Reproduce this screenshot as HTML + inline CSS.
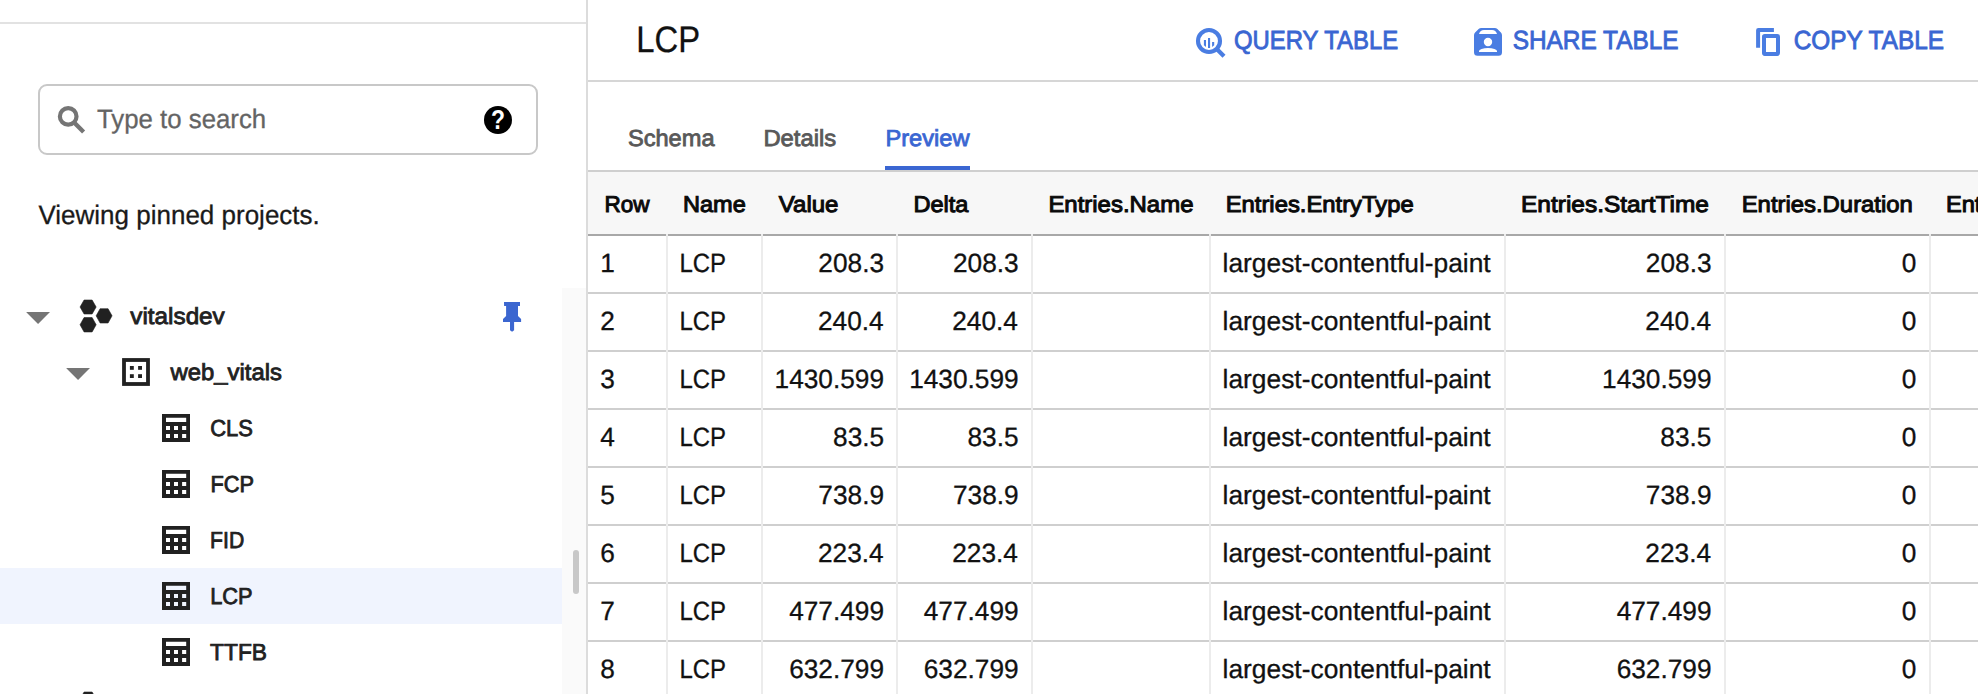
<!DOCTYPE html>
<html lang="en"><head><meta charset="utf-8"><title>BigQuery - LCP</title>
<style>
html,body{margin:0;padding:0;overflow:hidden}
body{width:1978px;height:694px;position:relative;overflow:hidden;background:#fff;font-family:"Liberation Sans",sans-serif}
.a,.t,i,svg.o{position:absolute}
.t{left:0;top:0;white-space:pre;line-height:normal;transform-origin:0 0;font-weight:400;text-rendering:geometricPrecision}
i{display:block}
.v{top:234px;width:2px;height:460px;background:#ececec}
.h{left:588px;width:1390px;height:2px;background:#cfcfcf}
.g{display:contents}
.clip{left:0;top:0;width:1978px;height:694px;overflow:hidden}
#qc{left:484px;top:106px;width:28px;height:28px;border-radius:50%;background:#000}
#topline{left:0;top:22px;width:586px;height:2px;background:#e2e2e2}
#search{left:38px;top:84px;width:496px;height:67px;border:2px solid #c8c8c8;border-radius:9px}
#sel{left:0;top:568px;width:562px;height:56px;background:#f0f4fe}
#track{left:562px;top:288px;width:24px;height:406px;background:#fafafa}
#divider{left:586px;top:0;width:2px;height:694px;background:#dcdcdc}
#hline{left:588px;top:80px;width:1390px;height:2px;background:#d6d6d6}
#tabline{left:588px;top:170px;width:1390px;height:2px;background:#cfcfcf}
#thead{left:588px;top:172px;width:1390px;height:62px;background:#f7f7f7}
#theadb{left:588px;top:234px;width:1390px;height:2px;background:#a8a8a8}
#ul{left:885px;top:166px;width:85px;height:4px;background:#3a66d2}
#q{left:484px;top:105px;width:28px;height:30px;line-height:30px;text-align:center;color:#fff;font-weight:700;font-size:27px;transform:scaleX(.85)}
</style></head>
<body>
<aside class="g">
<i id="topline"></i>
<div class="a" id="search"></div>
<i id="sel"></i>
<i id="track"></i>
<span class="a" id="qc"></span><span class="a" id="q">?</span>
<span class="t" style="font-size:26.6px;color:#646464;transform:translate(97.04px,104.05px) scaleX(0.9694);-webkit-text-stroke:0.3px #646464">Type to search</span>
<span class="t" style="font-size:26.6px;color:#1a1a1a;transform:translate(38.45px,199.85px) scaleX(0.9776);-webkit-text-stroke:0.3px #1a1a1a">Viewing pinned projects.</span>
<span class="t" style="font-size:23.2px;color:#212121;transform:translate(130.33px,302.74px) scaleX(1.0467);-webkit-text-stroke:0.82px #212121">vitalsdev</span>
<span class="t" style="font-size:23.2px;color:#212121;transform:translate(170.44px,358.79px) scaleX(1.0295);-webkit-text-stroke:0.82px #212121">web_vitals</span>
<span class="t" style="font-size:23.2px;color:#212121;transform:translate(210.15px,414.79px) scaleX(0.9450);-webkit-text-stroke:0.82px #212121">CLS</span>
<span class="t" style="font-size:23.2px;color:#212121;transform:translate(210.57px,470.69px) scaleX(0.9372);-webkit-text-stroke:0.82px #212121">FCP</span>
<span class="t" style="font-size:23.2px;color:#212121;transform:translate(210.08px,526.69px) scaleX(0.9123);-webkit-text-stroke:0.82px #212121">FID</span>
<span class="t" style="font-size:23.2px;color:#212121;transform:translate(210.17px,582.69px) scaleX(0.9396);-webkit-text-stroke:0.82px #212121">LCP</span>
<span class="t" style="font-size:23.2px;color:#212121;transform:translate(210.09px,638.69px) scaleX(0.9814);-webkit-text-stroke:0.82px #212121">TTFB</span>
<svg class="a" style="left:162px;top:414.2px" width="28" height="28" viewBox="0 0 28 28"><path fill="#212121" fill-rule="evenodd" d="M0 0h28v28H0z M4 3.8h20.2v4.2H4z M4 11.9h4v4H4z M12 11.9h4v4h-4z M20.1 11.9h4.1v4h-4.1z M4 20h4v4H4z M12 20h4v4h-4z M20.1 20h4.1v4h-4.1z"/></svg>
<svg class="a" style="left:162px;top:470.2px" width="28" height="28" viewBox="0 0 28 28"><path fill="#212121" fill-rule="evenodd" d="M0 0h28v28H0z M4 3.8h20.2v4.2H4z M4 11.9h4v4H4z M12 11.9h4v4h-4z M20.1 11.9h4.1v4h-4.1z M4 20h4v4H4z M12 20h4v4h-4z M20.1 20h4.1v4h-4.1z"/></svg>
<svg class="a" style="left:162px;top:526.2px" width="28" height="28" viewBox="0 0 28 28"><path fill="#212121" fill-rule="evenodd" d="M0 0h28v28H0z M4 3.8h20.2v4.2H4z M4 11.9h4v4H4z M12 11.9h4v4h-4z M20.1 11.9h4.1v4h-4.1z M4 20h4v4H4z M12 20h4v4h-4z M20.1 20h4.1v4h-4.1z"/></svg>
<svg class="a" style="left:162px;top:582.2px" width="28" height="28" viewBox="0 0 28 28"><path fill="#212121" fill-rule="evenodd" d="M0 0h28v28H0z M4 3.8h20.2v4.2H4z M4 11.9h4v4H4z M12 11.9h4v4h-4z M20.1 11.9h4.1v4h-4.1z M4 20h4v4H4z M12 20h4v4h-4z M20.1 20h4.1v4h-4.1z"/></svg>
<svg class="a" style="left:162px;top:638.2px" width="28" height="28" viewBox="0 0 28 28"><path fill="#212121" fill-rule="evenodd" d="M0 0h28v28H0z M4 3.8h20.2v4.2H4z M4 11.9h4v4H4z M12 11.9h4v4h-4z M20.1 11.9h4.1v4h-4.1z M4 20h4v4H4z M12 20h4v4h-4z M20.1 20h4.1v4h-4.1z"/></svg>
</aside>
<i id="divider"></i>
<main class="g">
<header class="g">
<i id="hline"></i>
<i id="tabline"></i>
<i id="ul"></i>
<span class="t" style="font-size:37px;color:#111;transform:translate(636.29px,18.55px) scaleX(0.8862);-webkit-text-stroke:0.3px #111">LCP</span>
<span class="t" style="font-size:26.1px;color:#3a66d2;transform:translate(1233.98px,24.58px) scaleX(0.9153);-webkit-text-stroke:0.85px #3a66d2">QUERY TABLE</span>
<span class="t" style="font-size:26.1px;color:#3a66d2;transform:translate(1512.67px,24.58px) scaleX(0.9356);-webkit-text-stroke:0.85px #3a66d2">SHARE TABLE</span>
<span class="t" style="font-size:26.1px;color:#3a66d2;transform:translate(1793.67px,24.58px) scaleX(0.9334);-webkit-text-stroke:0.85px #3a66d2">COPY TABLE</span>
<span class="t" style="font-size:23.2px;color:#595959;transform:translate(627.9px,125.14px) scaleX(1.0190);-webkit-text-stroke:0.82px #595959">Schema</span>
<span class="t" style="font-size:23.2px;color:#595959;transform:translate(763.4px,125.14px) scaleX(1.0259);-webkit-text-stroke:0.82px #595959">Details</span>
<span class="t" style="font-size:23.2px;color:#3a66d2;transform:translate(885.41px,125.14px) scaleX(1.0203);-webkit-text-stroke:0.82px #3a66d2">Preview</span>
</header>
<section class="g">
<i id="thead"></i>
<i id="theadb"></i>
<i class="h" style="top:292px"></i>
<i class="h" style="top:350px"></i>
<i class="h" style="top:408px"></i>
<i class="h" style="top:466px"></i>
<i class="h" style="top:524px"></i>
<i class="h" style="top:582px"></i>
<i class="h" style="top:640px"></i>
<i class="v" style="left:666px"></i>
<i class="v" style="left:761px"></i>
<i class="v" style="left:896px"></i>
<i class="v" style="left:1031px"></i>
<i class="v" style="left:1209px"></i>
<i class="v" style="left:1504px"></i>
<i class="v" style="left:1724px"></i>
<i class="v" style="left:1929px"></i>
<div class="a clip">
<span class="t" style="font-size:22.9px;color:#0a0a0a;transform:translate(604.38px,190.75px) scaleX(0.9836);-webkit-text-stroke:1.0px #0a0a0a">Row</span>
<span class="t" style="font-size:22.9px;color:#0a0a0a;transform:translate(682.99px,190.75px) scaleX(1.0280);-webkit-text-stroke:1.0px #0a0a0a">Name</span>
<span class="t" style="font-size:22.9px;color:#0a0a0a;transform:translate(778.82px,190.75px) scaleX(1.0489);-webkit-text-stroke:1.0px #0a0a0a">Value</span>
<span class="t" style="font-size:22.9px;color:#0a0a0a;transform:translate(913.5px,190.75px) scaleX(1.0285);-webkit-text-stroke:1.0px #0a0a0a">Delta</span>
<span class="t" style="font-size:22.9px;color:#0a0a0a;transform:translate(1048.38px,190.75px) scaleX(1.0462);-webkit-text-stroke:1.0px #0a0a0a">Entries.Name</span>
<span class="t" style="font-size:22.9px;color:#0a0a0a;transform:translate(1225.68px,190.75px) scaleX(1.0405);-webkit-text-stroke:1.0px #0a0a0a">Entries.EntryType</span>
<span class="t" style="font-size:22.9px;color:#0a0a0a;transform:translate(1521.07px,190.75px) scaleX(1.0678);-webkit-text-stroke:1.0px #0a0a0a">Entries.StartTime</span>
<span class="t" style="font-size:22.9px;color:#0a0a0a;transform:translate(1741.68px,190.75px) scaleX(1.0430);-webkit-text-stroke:1.0px #0a0a0a">Entries.Duration</span>
<span class="t" style="font-size:22.9px;color:#0a0a0a;transform:translate(1945.88px,190.75px) scaleX(1.0325);-webkit-text-stroke:1.0px #0a0a0a">Entries.RenderTime</span>
</div>
<div class="g">
<span class="t" style="font-size:26.4px;color:#111;transform:translate(600.3px,247.85px) scaleX(0.9945);-webkit-text-stroke:0.3px #111">1</span>
<span class="t" style="font-size:26.4px;color:#111;transform:translate(679.46px,247.85px) scaleX(0.9081);-webkit-text-stroke:0.3px #111">LCP</span>
<span class="t" style="font-size:26.4px;color:#111;transform:translate(818.35px,247.85px) scaleX(0.9945);-webkit-text-stroke:0.3px #111">208.3</span>
<span class="t" style="font-size:26.4px;color:#111;transform:translate(952.95px,247.85px) scaleX(0.9945);-webkit-text-stroke:0.3px #111">208.3</span>
<span class="t" style="font-size:26.4px;color:#111;transform:translate(1222.56px,247.85px) scaleX(0.9988);-webkit-text-stroke:0.3px #111">largest-contentful-paint</span>
<span class="t" style="font-size:26.4px;color:#111;transform:translate(1645.85px,247.85px) scaleX(0.9945);-webkit-text-stroke:0.3px #111">208.3</span>
<span class="t" style="font-size:26.4px;color:#111;transform:translate(1901.73px,247.85px) scaleX(0.9945);-webkit-text-stroke:0.3px #111">0</span>
<span class="t" style="font-size:26.4px;color:#111;transform:translate(600.3px,305.85px) scaleX(0.9945);-webkit-text-stroke:0.3px #111">2</span>
<span class="t" style="font-size:26.4px;color:#111;transform:translate(679.46px,305.85px) scaleX(0.9081);-webkit-text-stroke:0.3px #111">LCP</span>
<span class="t" style="font-size:26.4px;color:#111;transform:translate(817.95px,305.85px) scaleX(0.9945);-webkit-text-stroke:0.3px #111">240.4</span>
<span class="t" style="font-size:26.4px;color:#111;transform:translate(952.25px,305.85px) scaleX(0.9945);-webkit-text-stroke:0.3px #111">240.4</span>
<span class="t" style="font-size:26.4px;color:#111;transform:translate(1222.56px,305.85px) scaleX(0.9988);-webkit-text-stroke:0.3px #111">largest-contentful-paint</span>
<span class="t" style="font-size:26.4px;color:#111;transform:translate(1645.35px,305.85px) scaleX(0.9945);-webkit-text-stroke:0.3px #111">240.4</span>
<span class="t" style="font-size:26.4px;color:#111;transform:translate(1901.73px,305.85px) scaleX(0.9945);-webkit-text-stroke:0.3px #111">0</span>
<span class="t" style="font-size:26.4px;color:#111;transform:translate(600.3px,363.85px) scaleX(0.9945);-webkit-text-stroke:0.3px #111">3</span>
<span class="t" style="font-size:26.4px;color:#111;transform:translate(679.46px,363.85px) scaleX(0.9081);-webkit-text-stroke:0.3px #111">LCP</span>
<span class="t" style="font-size:26.4px;color:#111;transform:translate(774.56px,363.85px) scaleX(0.9945);-webkit-text-stroke:0.3px #111">1430.599</span>
<span class="t" style="font-size:26.4px;color:#111;transform:translate(909.16px,363.85px) scaleX(0.9945);-webkit-text-stroke:0.3px #111">1430.599</span>
<span class="t" style="font-size:26.4px;color:#111;transform:translate(1222.56px,363.85px) scaleX(0.9988);-webkit-text-stroke:0.3px #111">largest-contentful-paint</span>
<span class="t" style="font-size:26.4px;color:#111;transform:translate(1602.06px,363.85px) scaleX(0.9945);-webkit-text-stroke:0.3px #111">1430.599</span>
<span class="t" style="font-size:26.4px;color:#111;transform:translate(1901.73px,363.85px) scaleX(0.9945);-webkit-text-stroke:0.3px #111">0</span>
<span class="t" style="font-size:26.4px;color:#111;transform:translate(600.3px,421.85px) scaleX(0.9945);-webkit-text-stroke:0.3px #111">4</span>
<span class="t" style="font-size:26.4px;color:#111;transform:translate(679.46px,421.85px) scaleX(0.9081);-webkit-text-stroke:0.3px #111">LCP</span>
<span class="t" style="font-size:26.4px;color:#111;transform:translate(833.05px,421.85px) scaleX(0.9945);-webkit-text-stroke:0.3px #111">83.5</span>
<span class="t" style="font-size:26.4px;color:#111;transform:translate(967.45px,421.85px) scaleX(0.9945);-webkit-text-stroke:0.3px #111">83.5</span>
<span class="t" style="font-size:26.4px;color:#111;transform:translate(1222.56px,421.85px) scaleX(0.9988);-webkit-text-stroke:0.3px #111">largest-contentful-paint</span>
<span class="t" style="font-size:26.4px;color:#111;transform:translate(1660.35px,421.85px) scaleX(0.9945);-webkit-text-stroke:0.3px #111">83.5</span>
<span class="t" style="font-size:26.4px;color:#111;transform:translate(1901.73px,421.85px) scaleX(0.9945);-webkit-text-stroke:0.3px #111">0</span>
<span class="t" style="font-size:26.4px;color:#111;transform:translate(600.3px,479.85px) scaleX(0.9945);-webkit-text-stroke:0.3px #111">5</span>
<span class="t" style="font-size:26.4px;color:#111;transform:translate(679.46px,479.85px) scaleX(0.9081);-webkit-text-stroke:0.3px #111">LCP</span>
<span class="t" style="font-size:26.4px;color:#111;transform:translate(818.35px,479.85px) scaleX(0.9945);-webkit-text-stroke:0.3px #111">738.9</span>
<span class="t" style="font-size:26.4px;color:#111;transform:translate(952.95px,479.85px) scaleX(0.9945);-webkit-text-stroke:0.3px #111">738.9</span>
<span class="t" style="font-size:26.4px;color:#111;transform:translate(1222.56px,479.85px) scaleX(0.9988);-webkit-text-stroke:0.3px #111">largest-contentful-paint</span>
<span class="t" style="font-size:26.4px;color:#111;transform:translate(1645.85px,479.85px) scaleX(0.9945);-webkit-text-stroke:0.3px #111">738.9</span>
<span class="t" style="font-size:26.4px;color:#111;transform:translate(1901.73px,479.85px) scaleX(0.9945);-webkit-text-stroke:0.3px #111">0</span>
<span class="t" style="font-size:26.4px;color:#111;transform:translate(600.3px,537.85px) scaleX(0.9945);-webkit-text-stroke:0.3px #111">6</span>
<span class="t" style="font-size:26.4px;color:#111;transform:translate(679.46px,537.85px) scaleX(0.9081);-webkit-text-stroke:0.3px #111">LCP</span>
<span class="t" style="font-size:26.4px;color:#111;transform:translate(817.95px,537.85px) scaleX(0.9945);-webkit-text-stroke:0.3px #111">223.4</span>
<span class="t" style="font-size:26.4px;color:#111;transform:translate(952.25px,537.85px) scaleX(0.9945);-webkit-text-stroke:0.3px #111">223.4</span>
<span class="t" style="font-size:26.4px;color:#111;transform:translate(1222.56px,537.85px) scaleX(0.9988);-webkit-text-stroke:0.3px #111">largest-contentful-paint</span>
<span class="t" style="font-size:26.4px;color:#111;transform:translate(1645.35px,537.85px) scaleX(0.9945);-webkit-text-stroke:0.3px #111">223.4</span>
<span class="t" style="font-size:26.4px;color:#111;transform:translate(1901.73px,537.85px) scaleX(0.9945);-webkit-text-stroke:0.3px #111">0</span>
<span class="t" style="font-size:26.4px;color:#111;transform:translate(600.3px,595.85px) scaleX(0.9945);-webkit-text-stroke:0.3px #111">7</span>
<span class="t" style="font-size:26.4px;color:#111;transform:translate(679.46px,595.85px) scaleX(0.9081);-webkit-text-stroke:0.3px #111">LCP</span>
<span class="t" style="font-size:26.4px;color:#111;transform:translate(789.16px,595.85px) scaleX(0.9945);-webkit-text-stroke:0.3px #111">477.499</span>
<span class="t" style="font-size:26.4px;color:#111;transform:translate(923.76px,595.85px) scaleX(0.9945);-webkit-text-stroke:0.3px #111">477.499</span>
<span class="t" style="font-size:26.4px;color:#111;transform:translate(1222.56px,595.85px) scaleX(0.9988);-webkit-text-stroke:0.3px #111">largest-contentful-paint</span>
<span class="t" style="font-size:26.4px;color:#111;transform:translate(1616.66px,595.85px) scaleX(0.9945);-webkit-text-stroke:0.3px #111">477.499</span>
<span class="t" style="font-size:26.4px;color:#111;transform:translate(1901.73px,595.85px) scaleX(0.9945);-webkit-text-stroke:0.3px #111">0</span>
<span class="t" style="font-size:26.4px;color:#111;transform:translate(600.3px,653.85px) scaleX(0.9945);-webkit-text-stroke:0.3px #111">8</span>
<span class="t" style="font-size:26.4px;color:#111;transform:translate(679.46px,653.85px) scaleX(0.9081);-webkit-text-stroke:0.3px #111">LCP</span>
<span class="t" style="font-size:26.4px;color:#111;transform:translate(789.16px,653.85px) scaleX(0.9945);-webkit-text-stroke:0.3px #111">632.799</span>
<span class="t" style="font-size:26.4px;color:#111;transform:translate(923.76px,653.85px) scaleX(0.9945);-webkit-text-stroke:0.3px #111">632.799</span>
<span class="t" style="font-size:26.4px;color:#111;transform:translate(1222.56px,653.85px) scaleX(0.9988);-webkit-text-stroke:0.3px #111">largest-contentful-paint</span>
<span class="t" style="font-size:26.4px;color:#111;transform:translate(1616.66px,653.85px) scaleX(0.9945);-webkit-text-stroke:0.3px #111">632.799</span>
<span class="t" style="font-size:26.4px;color:#111;transform:translate(1901.73px,653.85px) scaleX(0.9945);-webkit-text-stroke:0.3px #111">0</span>
</div>
</section>
</main>
<svg class="o" style="left:0;top:0" width="1978" height="694" viewBox="0 0 1978 694">
<path fill="#757575" d="M26.1 312.1h23.9l-11.95 11.9z"/>
<path fill="#757575" d="M66.1 368h23.9l-11.95 11.9z"/>
<path fill="#212121" stroke="#212121" stroke-width="0.6" stroke-linejoin="round" d="M80.05 307L84.07 300L92.12 300L96.15 307L92.12 314L84.07 314ZM96.15 315.85L100.12 308.7L108.07 308.7L112.05 315.85L108.07 323L100.12 323ZM80.05 324.75L84.07 317.55L92.12 317.55L96.15 324.75L92.12 331.95L84.07 331.95Z"/>
<path fill="#212121" stroke="#212121" stroke-width="0.6" stroke-linejoin="round" d="M80.05 699L84.07 692L92.12 692L96.15 699L92.12 706L84.07 706ZM96.15 707.85L100.12 700.7L108.07 700.7L112.05 707.85L108.07 715L100.12 715ZM80.05 716.75L84.07 709.55L92.12 709.55L96.15 716.75L92.12 723.95L84.07 723.95Z"/>
<path fill="#757575" d="M26.1 704.1h23.9l-11.95 11.9z"/>
<rect x="124" y="360" width="24" height="24" fill="none" stroke="#212121" stroke-width="3.8"/>
<rect x="129.9" y="366.0" width="3.9" height="3.8" fill="#212121"/>
<rect x="129.9" y="374.2" width="3.9" height="3.8" fill="#212121"/>
<rect x="138.1" y="366.0" width="3.9" height="3.8" fill="#212121"/>
<rect x="138.1" y="374.2" width="3.9" height="3.8" fill="#212121"/>
<path fill="#3b66d0" d="M504 302h16v4h-2v10l3.1 3v3h-7v8.2l-2.05 1.6-2.05-1.6V322h-7v-3l3.1-3v-10h-2z"/>
<circle cx="68.2" cy="116.4" r="8.3" fill="none" stroke="#757575" stroke-width="4.2"/><path d="M74.4 122.8L83.6 132" stroke="#757575" stroke-width="4.4" fill="none"/>
<rect x="573" y="550" width="6" height="44" rx="3" fill="#c8c8c8"/>
<circle cx="1209" cy="41" r="11" fill="none" stroke="#4a7de2" stroke-width="4.1"/><path d="M1216.5 48.8L1224 56.3" stroke="#4a7de2" stroke-width="4.2" fill="none"/><path fill="#4a7de2" d="M1203.9 40h2.1v6.9l-2.1-1.7z M1208 38h2.1v9.9h-2.1z M1212.1 42h2.1v3.2l-2.1 1.7z"/>
<path fill="#4a7de2" fill-rule="evenodd" d="M1481.3 27.9h13.4q1.6 0 2.7 1.1l3.5 3.5q1.1 1.1 1.1 2.7V52.3q0 3.5-3.5 3.5h-21q-3.5 0-3.5-3.5V35.2q0-1.6 1.1-2.7l3.5-3.5q1.1-1.1 2.7-1.1z M1479 34.1q1.2-4.1 5-4.1h8q3.8 0 5 4.1z M1492.2 42a4.2 4.2 0 1 0-8.4 0a4.2 4.2 0 1 0 8.4 0z M1479 52.1v-1q0-1.3 2.5-2.1q3-1.1 6.5-1.1t6.5 1.1q2.5 0.8 2.5 2.1v1z"/>
<path fill="#4a7de2" d="M1756.1 47.8V30.2q0-2.3 2.3-2.3h15.5v4h-13.8v15.9z"/><rect x="1764" y="36" width="14" height="17.9" rx="0.8" fill="none" stroke="#4a7de2" stroke-width="4" stroke-linejoin="round"/>
</svg>
</body></html>
